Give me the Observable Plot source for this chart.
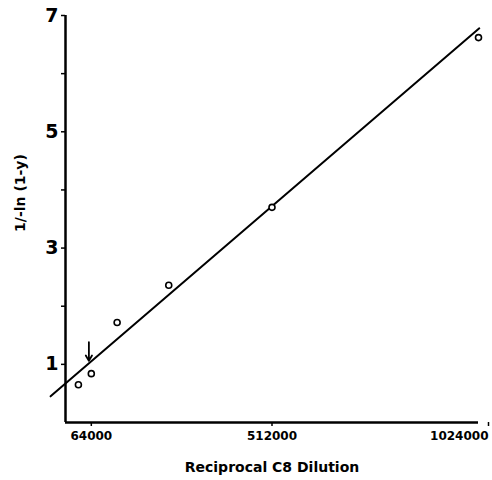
<!DOCTYPE html>
<html>
<head>
<meta charset="utf-8">
<script src="https://cdn.jsdelivr.net/npm/d3@7"></script>
<script src="https://cdn.jsdelivr.net/npm/@observablehq/plot@0.6"></script>
<style>
  html, body { margin: 0; padding: 0; background: #fff; }
  #chart svg { font-family: "DejaVu Sans", sans-serif; font-weight: bold; }
</style>
</head>
<body>
<div id="chart"></div>
<script>
// Reciprocal C8 dilution (x) and 1/-ln(1-y) (y)
const dilutions = [32000, 64000, 128000, 256000, 512000, 1024000];
const values = [0.65, 0.84, 1.72, 2.36, 3.70, 6.62];

// fitted line, endpoints
const fitX = [-37000, 1026000];
const fitY = [0.45, 6.78];

// arrow marking the 64000 dilution
const arrowX = [58000];
const arrowY1 = [1.38];
const arrowY2 = [1.06];

const xTicks = [64000, 512000];
const xLastTick = [1024000];
const yTicks = [1, 3, 5, 7];
const yMinorTicks = [2, 4, 6];

const xLabel = "Reciprocal C8 Dilution";
const yLabel = "1/-ln (1-y)";

const points = dilutions.map((d, i) => ({x: d, y: values[i]}));
const fit = fitX.map((d, i) => ({x: d, y: fitY[i]}));
const arrows = arrowX.map((d, i) => ({x: d, y1: arrowY1[i], y2: arrowY2[i]}));

const chart = Plot.plot({
  width: 492,
  height: 480,
  marginLeft: 65,
  marginRight: 14,
  marginTop: 15,
  marginBottom: 58,
  x: {domain: [0, 1024000]},
  y: {domain: [0, 7]},
  marks: [
    Plot.axisX({ticks: xTicks, tickFormat: d => String(d), tickSize: 4, tickPadding: 5, fontSize: 12, label: null, strokeWidth: 1.5}),
    Plot.axisX({ticks: xLastTick, tickFormat: d => String(d), tickSize: 4, tickPadding: 5, fontSize: 12, label: null, strokeWidth: 1.5, textAnchor: "end", dx: 10}),
    Plot.axisY({ticks: yTicks, tickFormat: d => String(d), tickSize: 4, tickPadding: 3, fontSize: 19, label: null, strokeWidth: 1.5}),
    Plot.axisY({ticks: yMinorTicks, tickFormat: () => "", tickSize: 4, label: null, strokeWidth: 1.5}),
    Plot.ruleY([0], {x1: 0, x2: 1024000, strokeWidth: 2.5}),
    Plot.ruleX([0], {y1: 0, y2: 7, strokeWidth: 2.5}),
    Plot.line(fit, {x: "x", y: "y", stroke: "black", strokeWidth: 2}),
    Plot.dot(points, {x: "x", y: "y", r: 3, stroke: "black", strokeWidth: 1.6, fill: "white"}),
    Plot.arrow(arrows, {x: "x", y1: "y1", y2: "y2", stroke: "black", strokeWidth: 1.8, headLength: 7}),
    Plot.text([xLabel], {frameAnchor: "bottom", dy: 49, fontSize: 14, fontWeight: "bold"}),
    Plot.text([yLabel], {frameAnchor: "left", textAnchor: "middle", rotate: -90, dx: -45, dy: -26, fontSize: 14, fontWeight: "bold"})
  ]
});
document.getElementById("chart").appendChild(chart);
</script>
</body>
</html>
